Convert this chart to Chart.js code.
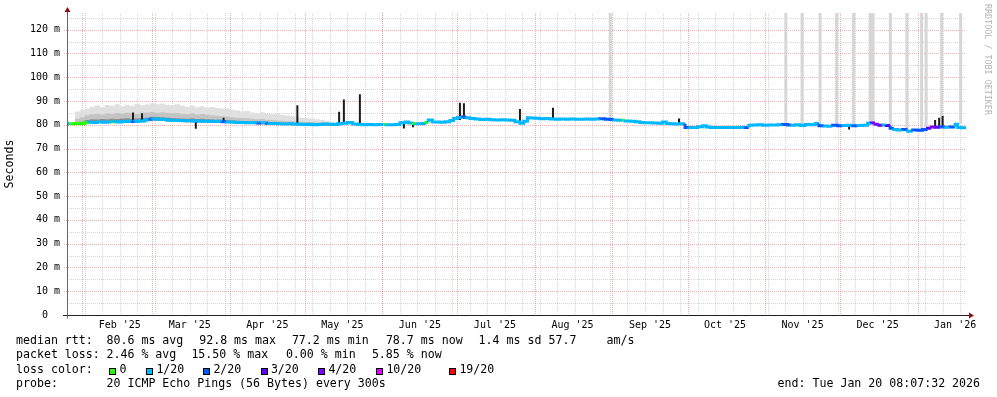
<!DOCTYPE html>
<html>
<head>
<meta charset="utf-8">
<script src="https://cdn.jsdelivr.net/npm/chart.js@4"></script>
<style>
  body { margin: 0; background: #fff; }
  #wrap { position: relative; width: 997px; height: 397px; overflow: hidden; background: #fff; }
  #chart { position: absolute; left: 0; top: 0; }
  .txt { position: absolute; font-family: "DejaVu Sans Mono", monospace; font-size: 11.6px; line-height: 14.4px; white-space: pre; color: #000; }
  .r1 { top: 333px; } .r2 { top: 347.4px; } .r3 { top: 361.8px; } .r4 { top: 376.2px; }
  .box { position: absolute; width: 5px; height: 5px; border: 1px solid #000; }
  #credit { position: absolute; left: 983px; top: 4px; writing-mode: vertical-rl; font-family: "DejaVu Sans Mono", monospace; font-size: 8.4px; color: #b4b4b4; white-space: pre; }
</style>
</head>
<body>
<div id="wrap">
  <canvas id="chart" width="997" height="397"></canvas>
  <div id="credit">RRDTOOL / TOBI OETIKER</div>
  <div class="txt r1" style="left:16px">median rtt:</div>
  <div class="txt r1" style="left:106.5px">80.6 ms avg</div>
  <div class="txt r1" style="left:199.2px">92.8 ms max</div>
  <div class="txt r1" style="left:291.9px">77.2 ms min</div>
  <div class="txt r1" style="left:385.9px">78.7 ms now</div>
  <div class="txt r1" style="left:478.6px">1.4 ms sd</div>
  <div class="txt r1" style="left:548.5px">57.7</div>
  <div class="txt r1" style="left:606.6px">am/s</div>
  <div class="txt r2" style="left:16px">packet loss:</div>
  <div class="txt r2" style="left:106.5px">2.46 % avg</div>
  <div class="txt r2" style="left:191.4px">15.50 % max</div>
  <div class="txt r2" style="left:285.9px">0.00 % min</div>
  <div class="txt r2" style="left:371.9px">5.85 % now</div>
  <div class="txt r3" style="left:16px">loss color:</div>
  <div class="txt r4" style="left:16px">probe:</div>
  <div class="txt r4" style="left:106.5px">20 ICMP Echo Pings (56 Bytes) every 300s</div>
  <div class="txt r4" style="left:777.6px">end: Tue Jan 20 08:07:32 2026</div>
</div>
<script>
// days counted from Jan 1 2025 (Feb 1 = 31, Jan 1 2026 = 365)
const xMin = 24.9
const xMax = 384.34
const monthStarts = [31, 59, 90, 120, 151, 181, 212, 243, 273, 304, 334, 365]
const monthLabels = ["Feb '25", "Mar '25", "Apr '25", "May '25", "Jun '25", "Jul '25",
                     "Aug '25", "Sep '25", "Oct '25", "Nov '25", "Dec '25", "Jan '26"]
const firstWeek = 25

// loss colour steps (lost pings out of 20)
const lossSteps = [0, 1, 2, 3, 4, 10, 19]
const lossLabels = ['0', '1/20', '2/20', '3/20', '4/20', '10/20', '19/20']
const lossColors = ['#26ff00', '#00b8ff', '#0059ff', '#5e00ff', '#7e00ff', '#dd00ff', '#ff0000']

// median rtt (ms) and lost pings
const medDay = [24.9, 26, 28, 30, 32, 33.5, 35, 37, 39, 41, 42.7, 43.5, 45, 47, 49, 51, 52, 54, 56, 58,
  59, 61, 63, 65, 67, 69, 71, 73, 75, 77, 79, 81, 83, 85, 87, 88.5, 90, 92, 94, 96,
  98, 100, 101.3, 102.5, 104.7, 105.5, 107, 109, 111, 113, 115, 117, 119, 121, 123, 125, 127, 129, 131, 133,
  135, 137, 139, 141, 143, 145, 147, 149, 151.5, 152.5, 154, 156, 158, 160, 161.5, 163.3, 164.3, 167, 168.4, 169.3,
  171, 172.5, 174, 176, 178, 179.5, 181, 183, 184.5, 186, 188, 190, 192, 194, 196, 198, 200, 202, 204, 206,
  207.5, 209, 210, 212, 214, 216, 218, 220, 222, 224, 226, 228, 230, 232, 234, 236, 238, 240, 242, 243.5,
  245, 247, 248, 250, 252, 254, 255.5, 257, 259, 261, 263, 264.5, 266, 268, 270, 272, 273.5, 275, 277, 279,
  280.5, 282, 284, 286, 288, 290, 292, 294, 296, 297.5, 299, 301, 303, 305, 307, 309, 311, 313, 314.5, 316,
  318, 320, 322, 324, 325.5, 327.5, 329, 331, 333, 335, 337, 339, 341, 343, 345, 346.5, 348, 349.5, 351, 352.5,
  354, 355.5, 357, 359, 361, 363, 365, 367, 369, 370.5, 372, 374, 376, 378, 380, 381, 382.5, 384.34]
const medRtt = [81.4, 80.4, 80.4, 80.5, 80.4, 81.0, 81.1, 81.0, 81.2, 81.1, 81.2, 81.2, 81.3, 81.2, 81.4, 81.5, 81.4, 81.5, 81.6, 82.1,
  82.3, 82.4, 82.3, 82.2, 81.9, 81.8, 81.8, 81.7, 81.7, 81.6, 81.6, 81.5, 81.5, 81.4, 81.5, 81.3, 81.2, 81.2, 81.0, 80.9,
  80.8, 80.8, 80.9, 80.7, 80.8, 80.6, 80.5, 80.5, 80.4, 80.3, 80.4, 80.3, 80.2, 80.1, 80.2, 80.0, 80.1, 80.3, 80.2, 80.1,
  80.4, 80.6, 80.9, 80.3, 80.1, 80.0, 80.1, 80.0, 80.1, 80.1, 80.0, 80.0, 80.1, 80.8, 81.2, 80.7, 80.5, 80.4, 80.5, 81.0,
  82.0, 81.2, 81.2, 81.1, 81.3, 81.8, 82.6, 83.1, 83.3, 82.9, 82.6, 82.4, 82.2, 82.3, 82.1, 82.0, 82.1, 82.0, 81.9, 81.3,
  80.6, 81.5, 82.9, 82.8, 82.7, 82.5, 82.6, 82.4, 82.3, 82.4, 82.3, 82.4, 82.3, 82.3, 82.4, 82.3, 82.4, 82.5, 82.3, 82.2,
  82.0, 81.9, 81.9, 81.6, 81.5, 81.3, 80.9, 80.8, 80.8, 80.7, 80.6, 81.2, 80.5, 80.4, 80.3, 80.4, 78.9, 78.8, 78.9, 79.2,
  79.6, 79.1, 78.9, 78.8, 78.9, 78.8, 78.9, 78.8, 79.0, 78.9, 79.8, 79.9, 80.0, 79.8, 79.9, 79.9, 80.0, 80.1, 79.9, 79.8,
  80.0, 79.7, 80.1, 80.0, 80.5, 79.6, 79.5, 79.4, 79.8, 79.6, 79.7, 79.8, 79.6, 79.7, 79.8, 80.6, 80.7, 80.2, 79.8, 79.9,
  79.7, 78.5, 78.0, 77.8, 78.0, 77.3, 77.8, 77.7, 78.0, 78.5, 79.1, 79.0, 79.1, 79.0, 79.1, 80.2, 78.8, 78.7]
const medLoss = [1, 0, 0, 0, 0, 1, 1, 1, 1, 1, 0, 1, 1, 1, 1, 2, 1, 1, 1, 2,
  1, 1, 1, 1, 1, 1, 1, 1, 1, 1, 1, 1, 1, 1, 2, 1, 1, 1, 1, 1,
  1, 1, 2, 1, 2, 1, 1, 1, 1, 1, 1, 1, 1, 1, 1, 1, 1, 1, 1, 1,
  1, 1, 1, 1, 1, 1, 1, 1, 0, 1, 1, 1, 1, 1, 1, 0, 1, 1, 0, 1,
  1, 1, 1, 1, 1, 1, 1, 2, 1, 1, 1, 1, 1, 1, 1, 1, 1, 1, 1, 1,
  1, 1, 1, 1, 1, 1, 1, 1, 1, 1, 1, 1, 1, 1, 1, 1, 2, 2, 2, 1,
  1, 0, 1, 1, 1, 1, 1, 1, 1, 1, 1, 1, 1, 1, 1, 2, 1, 1, 1, 1,
  1, 1, 1, 1, 1, 1, 1, 1, 2, 1, 1, 1, 1, 1, 1, 1, 2, 2, 1, 1,
  1, 1, 1, 1, 2, 1, 1, 2, 2, 1, 1, 2, 1, 1, 1, 3, 4, 3, 1, 3,
  2, 1, 1, 2, 1, 2, 2, 2, 3, 4, 3, 2, 1, 2, 1, 1, 1, 1]

// smoke (spread of the 20 pings): lower edge and three shades
const smokeDay = [28, 30, 32, 34, 36, 38, 40, 42, 44, 46, 48, 50, 52, 54, 56, 58, 60, 62, 64, 66,
  68, 70, 72, 74, 76, 78, 80, 82, 84, 86, 88, 90, 92, 94, 96, 98, 100, 102, 104, 106,
  108, 110, 112, 114, 116, 118, 120, 122, 124, 126, 128, 130, 132, 134, 136]
const smokeBase = [80.2, 80.2, 80.3, 80.6, 80.7, 80.7, 80.8, 80.7, 80.8, 80.8, 80.8, 80.9, 80.9, 81.0, 81.1, 81.5, 81.8, 81.8, 81.7, 81.5,
  81.3, 81.2, 81.2, 81.1, 81.1, 81.0, 81.0, 80.9, 80.9, 80.8, 80.8, 80.7, 80.6, 80.5, 80.4, 80.3, 80.3, 80.2, 80.2, 80.1,
  80.0, 80.0, 79.9, 79.9, 79.8, 79.8, 79.8, 79.7, 79.7, 79.7, 79.7, 79.7, 79.7, 79.7, 79.7]
const smokeDark = [80.8, 81.0, 81.3, 82.0, 82.3, 82.2, 82.4, 82.3, 82.5, 82.4, 82.6, 82.7, 82.5, 82.6, 82.8, 83.0, 83.4, 83.3, 83.2, 83.0,
  82.8, 82.7, 82.6, 82.5, 82.6, 82.4, 82.5, 82.3, 82.2, 82.1, 82.0, 81.9, 81.8, 81.7, 81.5, 81.4, 81.3, 81.2, 81.2, 81.0,
  80.9, 80.9, 80.8, 80.8, 80.7, 80.6, 80.6, 80.5, 80.5, 80.4, 80.4, 80.3, 80.3, 80.2, 79.7]
const smokeMid = [81.8, 82.5, 83.2, 84.0, 84.4, 84.6, 84.3, 84.8, 84.6, 84.9, 84.7, 85.0, 84.8, 84.5, 85.0, 85.2, 85.4, 85.1, 85.3, 85.0,
  84.8, 84.9, 84.6, 84.4, 84.7, 84.3, 84.5, 84.2, 84.0, 83.8, 83.6, 83.5, 83.2, 83.0, 82.8, 82.7, 82.5, 82.3, 82.4, 82.1,
  82.0, 81.8, 81.7, 81.6, 81.5, 81.4, 81.3, 81.2, 81.1, 81.0, 80.9, 80.8, 80.7, 80.5, 79.7]
const smokeLight = [84.6, 85.6, 86.4, 86.8, 87.6, 88.1, 87.4, 88.3, 88.0, 88.6, 87.8, 88.4, 88.0, 88.7, 88.2, 88.5, 89.0, 88.6, 88.9, 88.4,
  88.2, 88.6, 88.0, 87.6, 88.1, 87.4, 87.8, 87.3, 87.5, 87.0, 86.8, 86.9, 86.3, 86.0, 85.6, 85.8, 85.2, 84.9, 85.3, 84.6,
  84.4, 84.7, 84.2, 83.9, 83.6, 83.4, 83.0, 82.8, 82.6, 82.3, 82.0, 81.6, 81.2, 80.8, 79.7]

// short bursts where all pings were slow (dark spikes)
const spikeDay = [51.3, 54.9, 76.4, 87.5, 117.0, 133.7, 135.6, 142.0, 159.6, 163.2, 182.0, 183.6, 206.0, 219.2, 269.6, 337.6, 372.0, 373.6, 375.0]
const spikeLo  = [81.4, 81.5, 78.3, 81.4, 80.3, 80.1, 80.3, 80.2, 78.4, 79.0, 82.0, 82.5, 81.3, 82.5, 80.3, 78.0, 79.1, 79.1, 79.1]
const spikeHi  = [85.2, 84.8, 81.6, 82.9, 88.2, 85.5, 90.6, 92.8, 80.4, 81.0, 89.3, 89.0, 86.6, 87.2, 82.6, 79.7, 82.0, 82.9, 83.7]

// single pings off the top of the scale
const outDay = [242.1, 312.3, 318.8, 326.0, 332.6, 339.4, 346.0, 347.2, 354.1, 360.7, 366.6, 368.4, 374.6, 382.2]
const outLo  = [82.6, 80.3, 80.2, 80.8, 80.0, 80.0, 81.0, 81.0, 80.2, 78.3, 78.2, 78.8, 79.3, 80.4]
const outHi  = [140, 140, 140, 140, 140, 140, 140, 140, 140, 140, 140, 140, 140, 140]

const mono = 'DejaVu Sans Mono'
const ctx = document.getElementById('chart').getContext('2d')

const pts = (xs, ys) => xs.map((d, i) => ({ x: d, y: ys[i] }))
const sticks = (xs, lo, hi) => xs.flatMap((d, i) => [{ x: d, y: lo[i] }, { x: d, y: hi[i] }, { x: d, y: null }])
const lossColor = n => {
  let c = lossColors[0]
  lossSteps.forEach((s, i) => { if (n >= s) c = lossColors[i] })
  return c
}

// legend boxes for loss colours
const boxX = [109, 146, 203, 260.5, 318, 376, 449]
const wrap = document.getElementById('wrap')
lossLabels.forEach((lab, i) => {
  const b = document.createElement('div')
  b.className = 'box'
  b.style.left = boxX[i] + 'px'
  b.style.top = '368px'
  b.style.background = lossColors[i]
  wrap.appendChild(b)
  const t = document.createElement('div')
  t.className = 'txt r3'
  t.style.left = (boxX[i] + 10.4) + 'px'
  t.textContent = lab
  wrap.appendChild(t)
})

// dotted rrdtool style grid
const rrdGrid = {
  id: 'rrdGrid',
  beforeDatasetsDraw(chart) {
    const { ctx, chartArea: a, scales: { x, y } } = chart
    ctx.save()
    ctx.lineWidth = 1
    ctx.setLineDash([1, 1])
    ctx.strokeStyle = 'rgba(140,140,140,0.35)'
    ctx.beginPath()
    for (let d = firstWeek; d < xMax; d += 7) {
      const px = Math.round(x.getPixelForValue(d)) + 0.5
      ctx.moveTo(px, a.top); ctx.lineTo(px, a.bottom)
    }
    for (let v = 5; v < y.max; v += 10) {
      const py = Math.round(y.getPixelForValue(v)) + 0.5
      ctx.moveTo(a.left, py); ctx.lineTo(a.right, py)
    }
    ctx.stroke()
    ctx.strokeStyle = 'rgba(225,80,80,0.45)'
    ctx.beginPath()
    monthStarts.forEach(d => {
      const px = Math.round(x.getPixelForValue(d)) + 0.5
      ctx.moveTo(px, a.top); ctx.lineTo(px, a.bottom)
    })
    for (let v = 10; v < y.max; v += 10) {
      const py = Math.round(y.getPixelForValue(v)) + 0.5
      ctx.moveTo(a.left - 3, py); ctx.lineTo(a.right, py)
    }
    ctx.stroke()
    ctx.restore()
  }
}

// axes with arrow heads
const rrdAxes = {
  id: 'rrdAxes',
  afterDatasetsDraw(chart) {
    const { ctx, chartArea: a } = chart
    const x0 = Math.round(a.left) + 0.5
    const y0 = Math.round(a.bottom) + 0.5
    ctx.save()
    ctx.lineWidth = 1
    ctx.strokeStyle = '#222'
    ctx.beginPath(); ctx.moveTo(a.left - 4, y0); ctx.lineTo(a.right + 3, y0); ctx.stroke()
    ctx.strokeStyle = '#666'
    ctx.beginPath(); ctx.moveTo(x0, y0 + 3); ctx.lineTo(x0, a.top - 1); ctx.stroke()
    ctx.fillStyle = '#8b1010'
    ctx.beginPath()
    ctx.moveTo(x0 - 3, a.top - 1); ctx.lineTo(x0 + 3, a.top - 1); ctx.lineTo(x0, a.top - 6); ctx.closePath()
    ctx.fill()
    ctx.beginPath()
    ctx.moveTo(a.right + 3, y0 - 3); ctx.lineTo(a.right + 3, y0 + 3); ctx.lineTo(a.right + 8, y0); ctx.closePath()
    ctx.fill()
    ctx.restore()
  }
}

const flat = { pointRadius: 0, borderWidth: 0, borderColor: 'rgba(0,0,0,0)', stepped: 'after' }

const data = {
  datasets: [
    { label: 'median', data: pts(medDay, medRtt), borderWidth: 3, pointRadius: 0, stepped: 'after',
      borderColor: lossColors[1], borderCapStyle: 'butt',
      segment: { borderColor: c => lossColor(medLoss[c.p0DataIndex]) } },
    { label: 'spikes', data: sticks(spikeDay, spikeLo, spikeHi), borderWidth: 2, pointRadius: 0,
      borderColor: '#1c1c1c', spanGaps: false, borderCapStyle: 'butt' },
    { label: 'outliers', data: sticks(outDay, outLo, outHi), borderWidth: 3, pointRadius: 0,
      borderColor: '#d6d6d6', spanGaps: false, borderCapStyle: 'butt', clip: 0 },
    { label: 'smoke dark', data: pts(smokeDay, smokeDark), ...flat, fill: 6, backgroundColor: '#8c8c8c' },
    { label: 'smoke mid', data: pts(smokeDay, smokeMid), ...flat, fill: 6, backgroundColor: '#c4c4c4' },
    { label: 'smoke light', data: pts(smokeDay, smokeLight), ...flat, fill: 6, backgroundColor: '#e0e0e0' },
    { label: 'smoke base', data: pts(smokeDay, smokeBase), ...flat, fill: false }
  ]
}

const config = {
  type: 'line',
  data: data,
  options: {
    responsive: false,
    animation: false,
    devicePixelRatio: 1,
    layout: { padding: { top: 13, right: 31, left: 0, bottom: 0 } },
    plugins: { legend: { display: false }, tooltip: { enabled: false } },
    scales: {
      x: {
        type: 'linear', min: xMin, max: xMax,
        grid: { display: false, drawTicks: false }, border: { display: false },
        afterBuildTicks: s => { s.ticks = monthStarts.map(d => ({ value: d + 15 })) },
        afterFit: s => { s.height = 82 },
        ticks: { autoSkip: false, maxRotation: 0, padding: 4, color: '#000',
                 font: { family: mono, size: 10 },
                 callback: (v, i) => monthLabels[i] }
      },
      y: {
        min: 0, max: 127,
        grid: { display: false, drawTicks: false }, border: { display: false },
        afterFit: s => { s.width = 67 },
        ticks: { stepSize: 10, includeBounds: false, padding: 7, color: '#000',
                 font: { family: mono, size: 10 },
                 callback: v => v === 0 ? '0  ' : v + ' m' },
        title: { display: true, text: 'Seconds', color: '#000',
                 font: { family: mono, size: 11.6 }, padding: { top: 3, bottom: 0 } }
      }
    }
  },
  plugins: [rrdGrid, rrdAxes]
}

const myChart = new Chart(ctx, config)
</script>
</body>
</html>
